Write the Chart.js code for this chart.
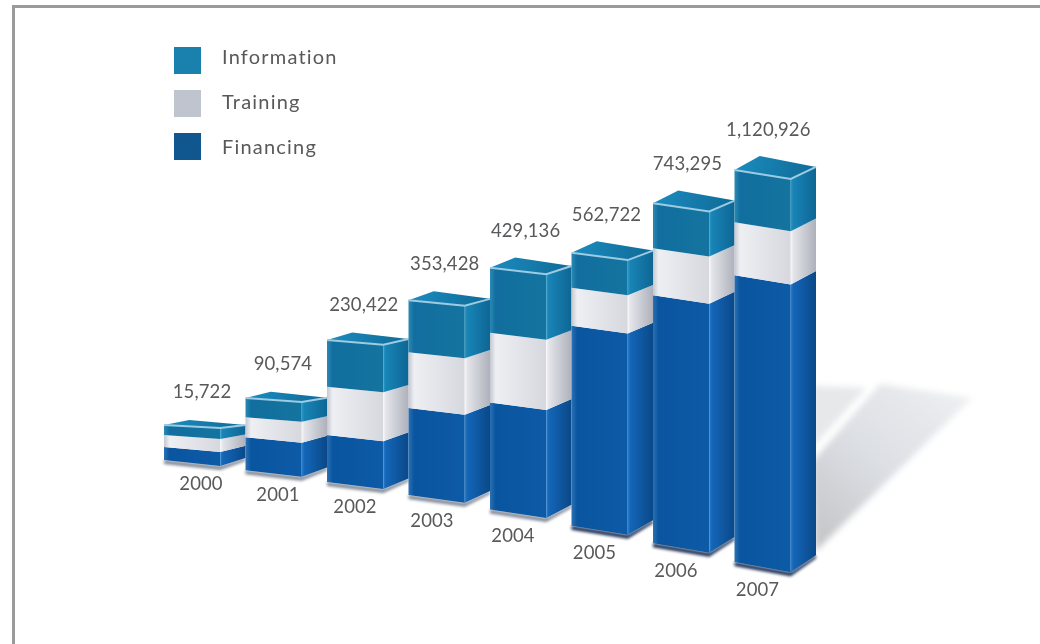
<!DOCTYPE html>
<html>
<head>
<meta charset="utf-8">
<title>Programmes by year</title>
<script src="https://cdn.jsdelivr.net/npm/chart.js@4/dist/chart.umd.js"></script>
<style>
  html, body { margin: 0; background: #fff; }
  canvas { display: block; }
</style>
</head>
<body>
<canvas id="chart" width="1040" height="644"></canvas>
<script>
const years = ['2000', '2001', '2002', '2003', '2004', '2005', '2006', '2007'];
const totals = [15722, 90574, 230422, 353428, 429136, 562722, 743295, 1120926];
const financing = [5840, 14824, 39998, 120544, 160504, 361483, 454990, 600452];
const training = [5390, 37312, 96530, 112199, 151153, 61218, 167022, 142843];
const information = [4492, 38438, 93894, 120685, 117479, 140021, 121283, 377631];

// the value axis is not proportional: each stop is a share of the axis height
const axis_values = [0, 15722, 90574, 230422, 353428, 429136, 562722, 743295, 1120926];
const axis_shares = [0, 0.089, 0.184, 0.362, 0.497, 0.617, 0.696, 0.867, 1];

const face_color = {
  Financing: { front: ['#2a72b4', '#0a55a0', '#0d5aa6'], side: ['#2c80cc', '#1466b8', '#0a4888'], legend: '#10568f' },
  Training: { front: ['#c4c7cf', '#eeeff3', '#d6d8de'], side: ['#f8f8fa', '#e4e5ea', '#aeb1bb'], legend: '#c0c4cf' },
  Information: { front: ['#2a8ab4', '#116e9e', '#14749f'], side: ['#2a9ac8', '#1884b6', '#0e6694'], legend: '#1a80ad' }
};
const label_color = '#58595b';

class StopScale extends Chart.LinearScale {
  static id = 'stops';
  static defaults = {};

  shareForValue(value) {
    for (var i = 1; i < axis_values.length; i++) {
      if (value <= axis_values[i]) {
        var t = (value - axis_values[i - 1]) / (axis_values[i] - axis_values[i - 1]);
        return axis_shares[i - 1] + t * (axis_shares[i] - axis_shares[i - 1]);
      }
    }
    return 1;
  }
  getPixelForValue(value) {
    return this.bottom - this.shareForValue(value) * (this.bottom - this.top);
  }
  getValueForPixel(pixel) {
    var share = (this.bottom - pixel) / (this.bottom - this.top);
    for (var i = 1; i < axis_shares.length; i++) {
      if (share <= axis_shares[i]) {
        var t = (share - axis_shares[i - 1]) / (axis_shares[i] - axis_shares[i - 1]);
        return axis_values[i - 1] + t * (axis_values[i] - axis_values[i - 1]);
      }
    }
    return axis_values[axis_values.length - 1];
  }
}
Chart.register(StopScale);

// the floor falls away toward the later years
function floorDrop(i) { return 9.5 * i + 0.726 * i * i; }

function lerp(a, b, t) { return a + (b - a) * t; }

function poly(ctx, pts) {
  ctx.beginPath();
  ctx.moveTo(pts[0][0], pts[0][1]);
  for (var i = 1; i < pts.length; i++) ctx.lineTo(pts[i][0], pts[i][1]);
  ctx.closePath();
}

function hGradient(ctx, x0, x1, colors) {
  var g = ctx.createLinearGradient(x0, 0, x1, 0);
  g.addColorStop(0, colors[0]);
  g.addColorStop(0.1, colors[1]);
  g.addColorStop(1, colors[2]);
  return g;
}

function drawWallShadow(ctx) {
  ctx.save();
  ctx.filter = 'blur(3px)';
  ctx.fillStyle = '#e6e8ea';
  poly(ctx, [[812, 386], [866, 388], [812, 448]]);
  ctx.fill();
  var g = ctx.createLinearGradient(815, 540, 950, 390);
  g.addColorStop(0, '#c4c6c8');
  g.addColorStop(0.5, '#dcdfe4');
  g.addColorStop(1, '#eceef0');
  ctx.fillStyle = g;
  poly(ctx, [[880, 384], [972, 398], [815, 552], [812, 462]]);
  ctx.fill();
  ctx.restore();
}

// draws one stacked bar as a box, using the element geometry from the bar controller
function drawBox(chart, i) {
  var ctx = chart.ctx;
  var drop = floorDrop(i);
  var metas = [chart.getDatasetMeta(0), chart.getDatasetMeta(1), chart.getDatasetMeta(2)];
  var first = metas[0].data[i];
  var last = metas[2].data[i];
  var left = first.x - first.width / 2;
  var edge = left + first.width * 0.69;
  var right = left + first.width;
  var yBase = first.base + drop;
  var yTop = last.y + drop;
  var span = Math.max(yBase - yTop, 1);

  var frontDrop = function (y) { return lerp(6 + 0.6 * i, 3 + 0.85 * i, (yBase - y) / span); };
  var sideRise = function (y) { return lerp(8 + 1.3 * i, 3 + 1.3 * i, (yBase - y) / span); };

  // contact shadow under the box
  ctx.save();
  ctx.filter = 'blur(1.5px)';
  ctx.fillStyle = i >= 5 ? '#15294f' : '#7f8794';
  poly(ctx, [[left, yBase], [edge, yBase + frontDrop(yBase)], [right, yBase + frontDrop(yBase) - sideRise(yBase)],
    [right, yBase + frontDrop(yBase) - sideRise(yBase) + 3], [edge, yBase + frontDrop(yBase) + 4], [left, yBase + 4]]);
  ctx.fill();
  ctx.restore();

  metas.forEach(function (meta) {
    var el = meta.data[i];
    var colors = face_color[meta.label];
    var y0 = el.y + drop;
    var y1 = el.base + drop;
    var d0 = frontDrop(y0), d1 = frontDrop(y1);
    var r0 = sideRise(y0), r1 = sideRise(y1);

    ctx.fillStyle = hGradient(ctx, left, edge, colors.front);
    poly(ctx, [[left, y0], [edge, y0 + d0], [edge, y1 + d1], [left, y1]]);
    ctx.fill();

    ctx.fillStyle = hGradient(ctx, edge, right, colors.side);
    poly(ctx, [[edge, y0 + d0], [right, y0 + d0 - r0], [right, y1 + d1 - r1], [edge, y1 + d1]]);
    ctx.fill();
  });

  // open top of the box
  var d = frontDrop(yTop), r = sideRise(yTop);
  var backY = yTop + d - r - (d + 2);
  var backX = left + (right - edge);
  var g = ctx.createLinearGradient(left, backY, right, yTop + d);
  g.addColorStop(0, '#1c8cc0');
  g.addColorStop(1, '#0f6a96');
  ctx.fillStyle = g;
  poly(ctx, [[left, yTop], [backX, backY], [right, yTop + d - r], [edge, yTop + d]]);
  ctx.fill();
  ctx.strokeStyle = '#9ccbe2';
  ctx.lineWidth = 2;
  ctx.beginPath();
  ctx.moveTo(left, yTop);
  ctx.lineTo(edge, yTop + d);
  ctx.lineTo(right, yTop + d - r);
  ctx.stroke();
}

const boxPlugin = {
  id: 'boxes',
  // the flat rectangles are replaced by boxes built from the same elements
  beforeDatasetsDraw(chart) {
    var ctx = chart.ctx;
    drawWallShadow(ctx);
    years.forEach(function (year, i) { drawBox(chart, i); });

    ctx.save();
    ctx.font = '18.5px Lato';
    ctx.fillStyle = label_color;
    ctx.letterSpacing = '0.1px';
    ctx.textAlign = 'center';
    ctx.textBaseline = 'middle';
    years.forEach(function (year, i) {
      var el = chart.getDatasetMeta(2).data[i];
      var bottom = chart.getDatasetMeta(0).data[i].base + floorDrop(i);
      var left = el.x - el.width / 2;
      ctx.fillText(totals[i].toLocaleString('en-US'), left + 38 - 0.6 * i, el.y + floorDrop(i) - 33 - i);
      ctx.fillText(year, left + Math.max(23, 37 - 4.5 * i), bottom + 24 + 0.6 * i);
    });
    ctx.restore();
    return false;
  },
  afterDraw(chart) {
    var ctx = chart.ctx;
    ctx.save();

    // frame, open on the right and at the bottom
    ctx.strokeStyle = '#9a9a9d';
    ctx.lineWidth = 3;
    ctx.beginPath();
    ctx.moveTo(13.5, 644);
    ctx.lineTo(13.5, 6.5);
    ctx.lineTo(1040, 6.5);
    ctx.stroke();

    // legend
    ctx.font = '20px Lato';
    ctx.letterSpacing = '1.2px';
    ctx.textBaseline = 'middle';
    ['Information', 'Training', 'Financing'].forEach(function (name, i) {
      var top = 47 + i * 43;
      ctx.fillStyle = face_color[name].legend;
      ctx.fillRect(174, top, 27, 27);
      ctx.fillStyle = label_color;
      ctx.fillText(name, 222, 58 + i * 45);
    });
    ctx.restore();
  }
};

new Chart(document.getElementById('chart'), {
  type: 'bar',
  data: {
    labels: years,
    datasets: [
      { label: 'Financing', data: financing, backgroundColor: face_color.Financing.legend },
      { label: 'Training', data: training, backgroundColor: face_color.Training.legend },
      { label: 'Information', data: information, backgroundColor: face_color.Information.legend }
    ]
  },
  options: {
    responsive: false,
    animation: false,
    layout: { padding: { left: 164, right: 224, top: 68, bottom: 184 } },
    datasets: { bar: { barPercentage: 1, categoryPercentage: 1 } },
    plugins: { legend: { display: false }, tooltip: { enabled: false } },
    scales: {
      x: { stacked: true, display: false },
      y: { type: 'stops', stacked: true, display: false, min: 0, max: 1120926 }
    }
  },
  plugins: [boxPlugin]
});
</script>
</body>
</html>
